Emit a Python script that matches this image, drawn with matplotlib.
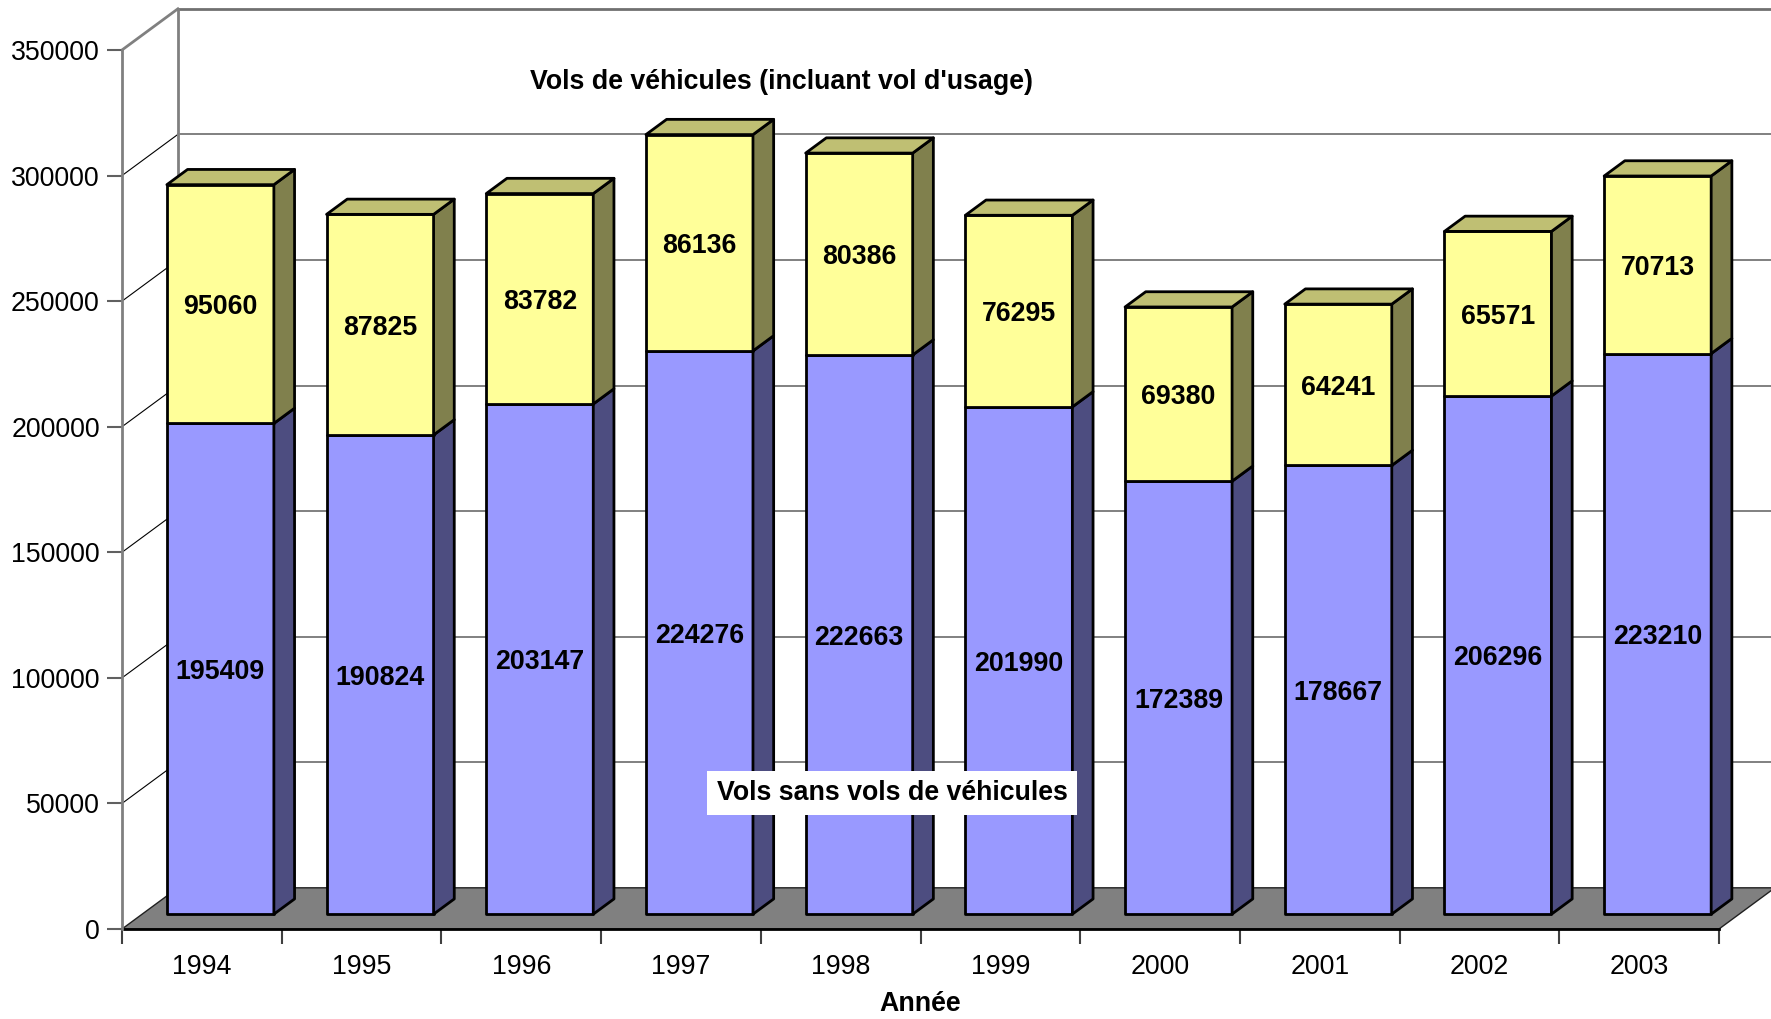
import matplotlib
matplotlib.use("Agg")
import matplotlib.pyplot as plt
from matplotlib.patches import Polygon

plt.rcParams['font.family'] = ['Liberation Sans', 'DejaVu Sans']

# Data
years = ['1994', '1995', '1996', '1997', '1998', '1999', '2000', '2001', '2002', '2003']
vols_sans = [195409, 190824, 203147, 224276, 222663, 201990, 172389, 178667, 206296, 223210]
vols_vehicules = [95060, 87825, 83782, 86136, 80386, 76295, 69380, 64241, 65571, 70713]
yticks = list(range(0, 350001, 50000))

# 3D look (Excel style) - depth vector in data units
DX, DY = 0.35, 16400
D0, D1 = 0.36, 0.73     # bar front / back depth
BW, BC = 0.67, 0.49     # bar width and center in a category
FS = 19.3

blue = ('#9999FF', '#4D4D80', '#7373BF')
yellow = ('#FFFF99', '#80804D', '#BFBF73')


def P(x, v, d):
    return (x + d * DX, v + d * DY)


fig = plt.figure(figsize=(17.71, 10.19), dpi=100)
ax = fig.add_axes([122 / 1771, 90 / 1019, 1597 / 1771, 879 / 1019])
ax.set_xlim(0, len(years))
ax.set_ylim(0, 350000)

ymax = yticks[-1]
n = len(years)

# floor
floor = Polygon([P(0, 0, 0), P(n, 0, 0), P(n, 0, 1), P(0, 0, 1)], closed=True,
                facecolor='#808080', edgecolor='#202020', lw=1, clip_on=False, zorder=1)
ax.add_patch(floor)
ax.plot([0, n], [0, 0], color='black', lw=2, clip_on=False, zorder=2)

# walls and gridlines
for v in yticks[1:-1]:
    ax.plot(*zip(P(0, v, 0), P(0, v, 1)), color='black', lw=0.8, clip_on=False, zorder=1)
    ax.plot(*zip(P(0, v, 1), P(n, v, 1)), color='#808080', lw=1.4, clip_on=False, zorder=1)
ax.plot(*zip(P(0, ymax, 0), P(0, ymax, 1)), color='#808080', lw=2, clip_on=False, zorder=1)
ax.plot(*zip(P(0, ymax, 1), P(n, ymax, 1)), color='#707070', lw=2, clip_on=False, zorder=1)
ax.plot(*zip(P(0, 0, 1), P(0, ymax, 1)), color='#808080', lw=2, clip_on=False, zorder=1)


def box(i, b, t, cols, top=True):
    x0 = i + BC - BW / 2
    x1 = i + BC + BW / 2
    front = [P(x0, b, D0), P(x1, b, D0), P(x1, t, D0), P(x0, t, D0)]
    side = [P(x1, b, D0), P(x1, b, D1), P(x1, t, D1), P(x1, t, D0)]
    faces = [(front, cols[0]), (side, cols[1])]
    if top:
        faces.append(([P(x0, t, D0), P(x1, t, D0), P(x1, t, D1), P(x0, t, D1)], cols[2]))
    for pts, c in faces:
        ax.add_patch(Polygon(pts, closed=True, facecolor=c, edgecolor='black',
                             lw=2, joinstyle='round', clip_on=False, zorder=3))


for i in range(n):
    b1 = vols_sans[i]
    t2 = b1 + vols_vehicules[i]
    box(i, 0, b1, blue, top=False)
    box(i, b1, t2, yellow)
    cx = i + BC + D0 * DX
    ax.text(cx, b1 / 2 + D0 * DY, str(vols_sans[i]), ha='center', va='center_baseline',
            fontsize=FS, fontweight='bold', zorder=5)
    ax.text(cx, (b1 + t2) / 2 + D0 * DY, str(vols_vehicules[i]), ha='center',
            va='center_baseline', fontsize=FS, fontweight='bold', zorder=5)

# axes
for s in ['top', 'right', 'bottom']:
    ax.spines[s].set_visible(False)
ax.spines['left'].set_color('#808080')
ax.spines['left'].set_linewidth(2)
ax.spines['left'].set_zorder(2)
ax.set_facecolor('none')

ax.set_yticks(yticks)
ax.set_yticklabels([str(v) for v in yticks])
ax.tick_params(axis='y', length=11, width=1.5, color='#606060', pad=5, labelsize=FS)

ax.set_xticks(range(n + 1))
ax.set_xticklabels([])
ax.set_xticks([i + 0.5 for i in range(n)], minor=True)
ax.set_xticklabels(years, minor=True)
ax.tick_params(axis='x', which='major', length=11, width=1.5, color='#404040')
ax.tick_params(axis='x', which='minor', length=0, pad=18, labelsize=FS)
ax.set_xlabel('Année', fontsize=FS, fontweight='bold', labelpad=8)

fig.text(781 / 1771, 1 - 82 / 1019, "Vols de véhicules (incluant vol d'usage)",
         ha='center', va='center', fontsize=FS, fontweight='bold')
fig.text(892 / 1771, 1 - 793 / 1019, "Vols sans vols de véhicules",
         ha='center', va='center', fontsize=FS, fontweight='bold', zorder=6,
         bbox=dict(boxstyle='square,pad=0.35', facecolor='white', edgecolor='none'))

fig.savefig('out.png', dpi=100)
